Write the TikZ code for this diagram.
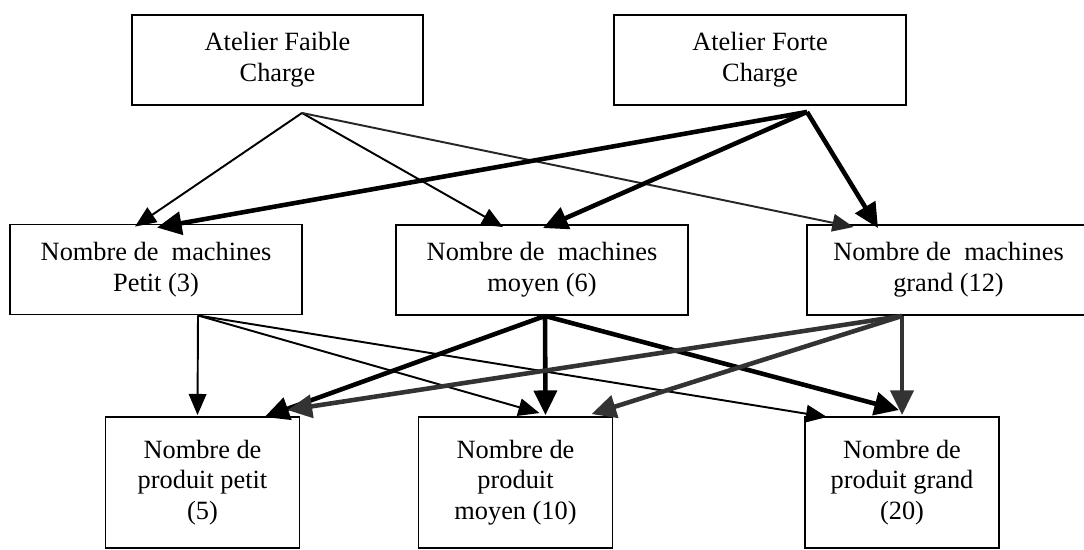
\documentclass[tikz,border=0pt]{standalone}
\usepackage{fontspec}
\setmainfont{Liberation Serif}
\usetikzlibrary{arrows.meta,calc}

\begin{document}
\begin{tikzpicture}[x=0.02cm,y=-0.02cm,
    box/.style={draw,line width=1.1pt,align=center,inner sep=0pt,font=\fontsize{15}{17.5}\selectfont},
    topbox/.style={box,minimum width=5.83cm,minimum height=1.8cm},
    lowbox/.style={box,minimum width=3.88cm,minimum height=2.62cm},
    weak/.style={line width=1.1pt,-{Triangle[length=12pt,width=10pt]}},
    strong/.style={line width=2.6pt,-{Triangle[length=14pt,width=13pt]}}]
    \useasboundingbox (0,0) rectangle (1084,549);

    % ateliers
    \node[topbox] (faible) at (277.5,60) {Atelier Faible\\Charge};
    \node[topbox] (forte) at (760,60) {Atelier Forte\\Charge};

    % machines
    \node[topbox] (mpetit) at (156,269.5) {Nombre de~ machines\\Petit (3)};
    \node[topbox] (mmoyen) at (542,270) {Nombre de~ machines\\moyen (6)};
    \node[topbox,minimum width=5.66cm] (mgrand) at (948.5,270) {Nombre de~ machines\\grand (12)};

    % produits
    \node[lowbox] (ppetit) at (202.5,482.5) {Nombre de\\produit petit\\(5)};
    \node[lowbox] (pmoyen) at (515.5,482.5) {Nombre de\\produit\\moyen (10)};
    \node[lowbox] (pgrand) at (902,482.5) {Nombre de\\produit grand\\(20)};

    \coordinate (fa) at ($(faible.south)+(24.5,7)$);
    \coordinate (fo) at ($(forte.south)+(47,6)$);
    \coordinate (mp) at ($(mpetit.south)+(42,0)$);
    \coordinate (mm) at ($(mmoyen.south)+(3,0)$);
    \coordinate (mg) at ($(mgrand.south)+(-46.5,0)$);

    \draw[weak] (fa) -- ($(mpetit.north)+(-21,3)$);
    \draw[weak] (fa) -- ($(mmoyen.north)+(-39,3)$);
    \draw[weak,black!85] (fa) -- ($(mgrand.north)+(-95,3)$);
    \draw[strong] (fo) -- ($(mpetit.north)+(1,4)$);
    \draw[strong] (fo) -- ($(mmoyen.north)+(1,4)$);
    \draw[strong] (fo) -- ($(mgrand.north)+(-70.5,4)$);

    \draw[weak] (mp) -- ($(ppetit.north)+(-5,-1)$);
    \draw[weak] (mp) -- ($(pmoyen.north)+(24,-3)$);
    \draw[weak] (mp) -- ($(pgrand.north)+(-75,1)$);
    \draw[strong] (mm) -- ($(ppetit.north)+(62,1)$);
    \draw[strong] (mm) -- ($(pmoyen.north)+(30,-1)$);
    \draw[strong] (mm) -- ($(pgrand.north)+(-3,-6)$);
    \draw[strong,black!80] (mg) -- ($(ppetit.north)+(85,-6)$);
    \draw[strong,black!80] (mg) -- ($(pmoyen.north)+(76,-2)$);
    \draw[strong,black!80] (mg) -- ($(pgrand.north)+(0,-1)$);
\end{tikzpicture}
\end{document}
